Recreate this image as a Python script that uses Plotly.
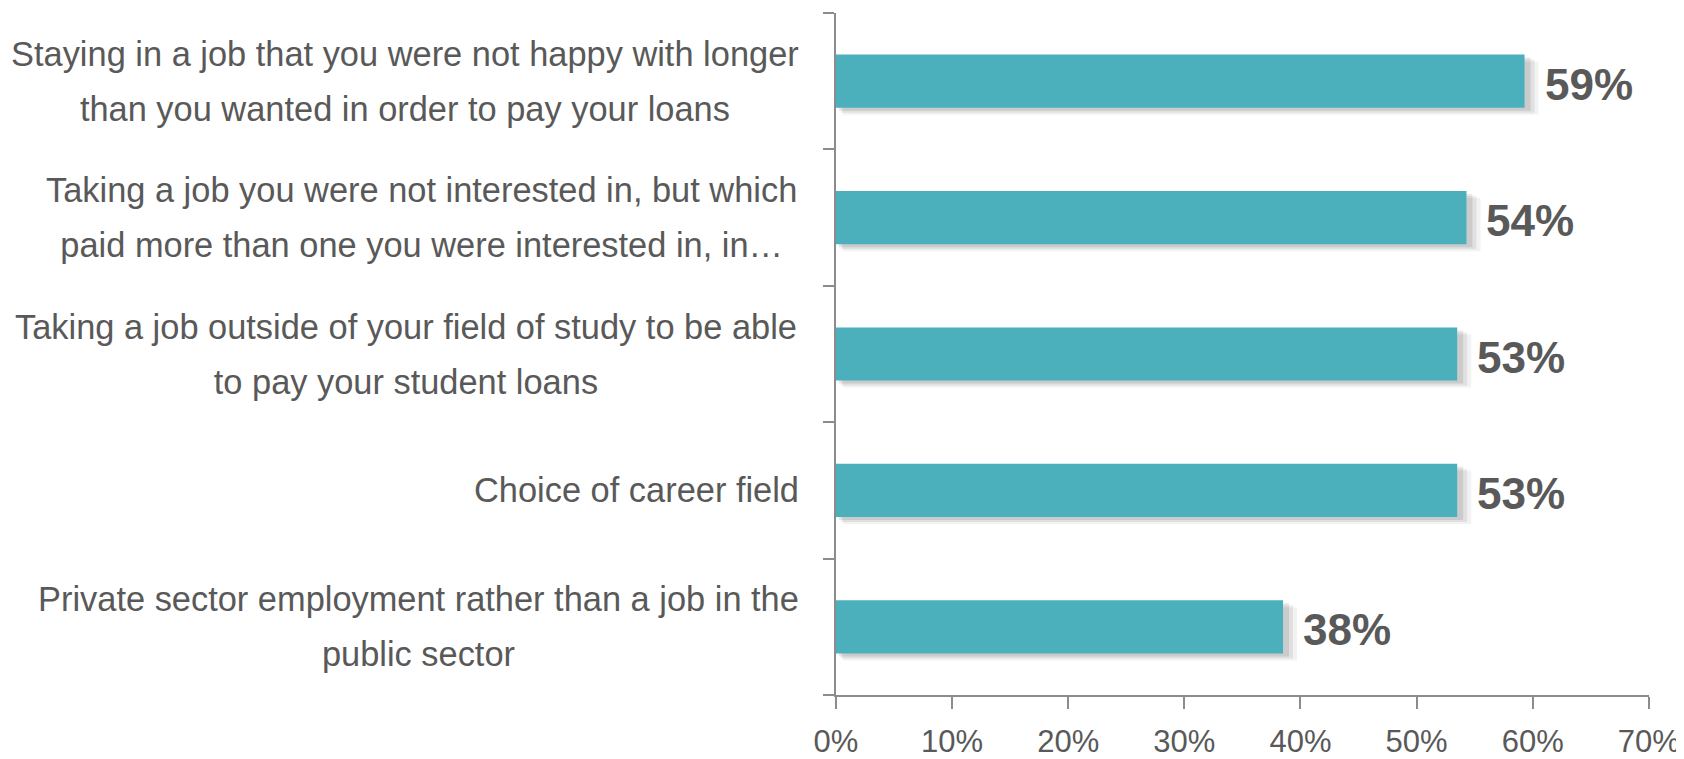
import plotly.graph_objects as go

categories = [
    "Staying in a job that you were not happy with longer<br>than you wanted in order to pay your loans",
    "Taking a job you were not interested in, but which<br>paid more than one you were interested in, in…",
    "Taking a job outside of your field of study to be able<br>to pay your student loans",
    "Choice of career field",
    "Private sector employment rather than a job in the<br>public sector",
]
values = [59.3, 54.3, 53.5, 53.5, 38.5]
value_labels = ["59%", "54%", "53%", "53%", "38%"]
x_ticks = [0, 10, 20, 30, 40, 50, 60, 70]
x_tick_labels = ["0%", "10%", "20%", "30%", "40%", "50%", "60%", "70%"]

FONT = "Liberation Sans, Arial, sans-serif"
GRAY = "#595959"
AXIS = "#8c8c8c"
BAR = "#4bb0bc"
LABEL_SIZE = 34.4

# Approximate Arial/Liberation Sans advance widths (per 1000 em) to size label boxes
_W = {" ": 278, ",": 278, ".": 278, "…": 1000, "i": 222, "j": 222, "l": 222,
      "f": 278, "t": 278, "r": 333, "c": 500, "k": 500, "s": 500, "v": 500,
      "x": 500, "y": 500, "z": 500, "m": 833, "w": 722, "S": 667, "T": 611,
      "C": 722, "P": 667}


def text_width(s, size):
    return sum(_W.get(ch, 556) for ch in s) * size / 1000.0


fig = go.Figure()
# soft shadow layers
for shift, alpha in [(7, 0.05), (5, 0.07), (3, 0.09)]:
    fig.add_trace(go.Bar(
        y=categories, x=[v + shift * 70 / 813 for v in values], orientation="h",
        base=shift * 70 / 813,
        marker=dict(color=f"rgba(0,0,0,{alpha})", line=dict(width=0)),
        width=0.39, offset=-0.195 - shift / 136.4,
        hoverinfo="skip",
    ))
fig.add_trace(go.Bar(
    y=categories, x=values, orientation="h",
    marker=dict(color=BAR, line=dict(width=0)),
    width=0.39, offset=-0.195,
))

line_gap = 55
for cat, v, lab in zip(categories, values, value_labels):
    lines = cat.split("<br>")
    n = len(lines)
    box = max(text_width(ln, LABEL_SIZE) for ln in lines) + 4
    for i, ln in enumerate(lines):
        fig.add_annotation(
            xref="paper", yref="y", x=0, y=cat,
            text=ln, showarrow=False, xanchor="right", align="center",
            width=box, xshift=-33, yshift=((n - 1) / 2 - i) * line_gap,
            font=dict(family=FONT, size=LABEL_SIZE, color=GRAY),
        )
    fig.add_annotation(
        xref="x", yref="y", x=v, y=cat, text=lab, showarrow=False,
        xanchor="left", xshift=18, yshift=-3,
        font=dict(family=FONT, size=44, color=GRAY, weight="bold"),
    )

fig.update_layout(
    width=1684, height=759,
    margin=dict(l=828, r=43, t=5, b=72),
    paper_bgcolor="white", plot_bgcolor="white",
    showlegend=False,
    barmode="overlay",
    xaxis=dict(
        range=[0, 70.02], tickvals=x_ticks, ticktext=x_tick_labels,
        showgrid=False, zeroline=False,
        showline=True, linecolor=AXIS, linewidth=2,
        ticks="outside", ticklen=12, tickwidth=2, tickcolor=AXIS,
        ticklabelstandoff=6, automargin=False, ticklabeloverflow="allow",
        tickfont=dict(family=FONT, size=31, color=GRAY),
    ),
    yaxis=dict(
        categoryorder="array", categoryarray=categories[::-1],
        showgrid=False, zeroline=False,
        showline=True, linecolor=AXIS, linewidth=2,
        ticks="outside", ticklen=11, tickwidth=2, tickcolor=AXIS,
        tickson="boundaries", showticklabels=False, automargin=False,
    ),
)

fig.write_html("out.html")
